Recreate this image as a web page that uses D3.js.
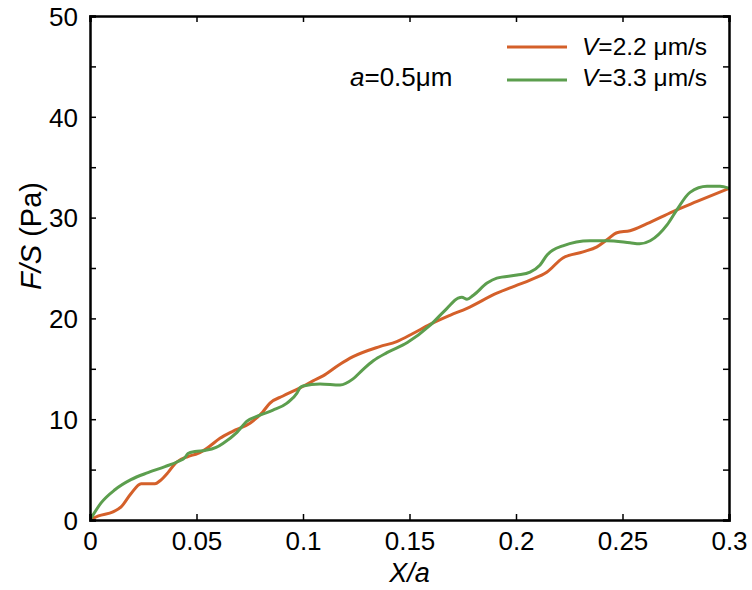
<!DOCTYPE html>
<html>
<head>
<meta charset="utf-8">
<script src="https://cdn.jsdelivr.net/npm/d3@7"></script>
<style>
  body { margin: 0; background: #fff; }
  text { font-family: "Liberation Sans", Arial, sans-serif; fill: #000; }
</style>
</head>
<body>
<svg id="chart"></svg>
<script>
// data
var xOrange = [0, 0.004, 0.0108, 0.0146, 0.0192, 0.024, 0.0305, 0.0329, 0.0366, 0.0404, 0.046, 0.0507,
  0.0554, 0.061, 0.067, 0.0751, 0.081, 0.0845, 0.0906, 0.0986, 0.1047, 0.1094, 0.117, 0.1235, 0.136,
  0.144, 0.1516, 0.1596, 0.169, 0.177, 0.191, 0.2005, 0.2066, 0.2146, 0.222, 0.2315, 0.238, 0.2427,
  0.2474, 0.2535, 0.2615, 0.2737, 0.285, 0.3];
var fOrange = [0, 0.4, 0.8, 1.3, 2.6, 3.6, 3.6, 3.9, 4.7, 5.7, 6.3, 6.6,
  7.2, 8.1, 8.8, 9.6, 10.7, 11.6, 12.3, 13.1, 13.8, 14.3, 15.4, 16.2, 17.2,
  17.7, 18.5, 19.4, 20.3, 21.0, 22.5, 23.3, 23.8, 24.6, 26.0, 26.6, 27.1, 27.8,
  28.5, 28.7, 29.4, 30.6, 31.6, 32.9];

var xGreen = [0, 0.0052, 0.0117, 0.0192, 0.0272, 0.0352, 0.0413, 0.0446, 0.046, 0.0493, 0.054, 0.0592,
  0.0624, 0.069, 0.0737, 0.0798, 0.0859, 0.0925, 0.0972, 0.0985, 0.1, 0.108, 0.1174, 0.1235, 0.128,
  0.133, 0.1394, 0.149, 0.1596, 0.1676, 0.1728, 0.1746, 0.177, 0.18, 0.1864, 0.191, 0.2005, 0.2066,
  0.2113, 0.2146, 0.222, 0.2347, 0.2427, 0.2535, 0.258, 0.263, 0.271, 0.2756, 0.2817, 0.2897, 0.2958, 0.3];
var fGreen = [0, 1.7, 3.0, 4.0, 4.7, 5.3, 5.8, 6.2, 6.6, 6.8, 6.9, 7.2,
  7.6, 8.7, 9.8, 10.4, 10.9, 11.6, 12.6, 13.1, 13.3, 13.5, 13.4, 14.0, 14.9,
  15.8, 16.6, 17.6, 19.3, 21.0, 22.0, 22.1, 21.9, 22.3, 23.5, 24.0, 24.3, 24.6,
  25.3, 26.3, 27.2, 27.7, 27.7, 27.5, 27.4, 27.7, 29.3, 30.8, 32.5, 33.1, 33.1, 32.9];

var seriesNames = ["=2.2 μm/s", "=3.3 μm/s"];
var seriesColors = ["#d4602a", "#5c9e4e"];
var xTicks = [0, 0.05, 0.1, 0.15, 0.2, 0.25, 0.3];
var yTicks = [0, 5, 10, 15, 20, 25, 30, 35, 40, 45, 50];

var width = 752, height = 590;
var margin = {left: 90, right: 23, top: 16, bottom: 70};

var svg = d3.select("#chart").attr("width", width).attr("height", height);

var xScale = d3.scaleLinear().domain([0, 0.3]).range([margin.left, width - margin.right]);
var yScale = d3.scaleLinear().domain([0, 50]).range([height - margin.bottom, margin.top]);

// clip
svg.append("clipPath").attr("id", "clip").append("rect")
  .attr("x", margin.left).attr("y", margin.top)
  .attr("width", width - margin.left - margin.right)
  .attr("height", height - margin.top - margin.bottom);

var line = d3.line()
  .x(function(d){ return xScale(d[0]); })
  .y(function(d){ return yScale(d[1]); })
  .curve(d3.curveMonotoneX);

var series = [d3.zip(xOrange, fOrange), d3.zip(xGreen, fGreen)];

svg.append("g").attr("clip-path", "url(#clip)")
  .selectAll("path").data(series).enter()
  .append("path")
  .attr("d", line)
  .attr("fill", "none")
  .attr("stroke", function(d, i){ return seriesColors[i]; })
  .attr("stroke-width", 3)
  .attr("stroke-linejoin", "round");

// axes, ticks point inward
var fmtX = function(d){ return d === 0 ? "0" : String(+d.toFixed(2)); };
var fmtY = function(d){ return d % 10 === 0 ? d : ""; };

var xBottom = svg.append("g").attr("transform", "translate(0," + (height - margin.bottom) + ")")
  .call(d3.axisBottom(xScale).tickValues(xTicks).tickSize(-6).tickPadding(12).tickFormat(fmtX));
var xTop = svg.append("g").attr("transform", "translate(0," + margin.top + ")")
  .call(d3.axisTop(xScale).tickValues(xTicks).tickSize(-6).tickFormat(""));
var yLeft = svg.append("g").attr("transform", "translate(" + margin.left + ",0)")
  .call(d3.axisLeft(yScale).tickValues(yTicks).tickSize(-6).tickPadding(12).tickFormat(fmtY));
var yRight = svg.append("g").attr("transform", "translate(" + (width - margin.right) + ",0)")
  .call(d3.axisRight(yScale).tickValues(yTicks).tickSize(-6).tickFormat(""));

[xBottom, xTop, yLeft, yRight].forEach(function(ax){
  ax.select(".domain").attr("stroke", "#000").attr("stroke-width", 2.5);
  ax.selectAll(".tick line").attr("stroke", "#000").attr("stroke-width", 1.5);
  ax.selectAll(".tick text").style("font-size", "26px").attr("font-family", null);
});
xBottom.selectAll(".tick text").attr("dy", "0.71em");
yLeft.selectAll(".tick text").attr("dy", "0.36em");

// axis titles
svg.append("text")
  .attr("x", (margin.left + width - margin.right) / 2).attr("y", 582)
  .attr("text-anchor", "middle").style("font-size", "27px").style("font-style", "italic")
  .text("X/a");

var yt = svg.append("text")
  .attr("transform", "translate(41,236) rotate(-90)")
  .attr("text-anchor", "middle").style("font-size", "29px");
yt.append("tspan").style("font-style", "italic").text("F/S");
yt.append("tspan").text(" (Pa)");

// annotation
var ann = svg.append("text").attr("x", 350).attr("y", 86).style("font-size", "26px");
ann.append("tspan").style("font-style", "italic").text("a");
ann.append("tspan").text("=0.5μm");

// legend
var legend = svg.append("g").classed("legend", true);
legend.selectAll("line").data(seriesNames).enter().append("line")
  .attr("x1", 507).attr("x2", 567)
  .attr("y1", function(d, i){ return 47 + i * 33; })
  .attr("y2", function(d, i){ return 47 + i * 33; })
  .attr("stroke", function(d, i){ return seriesColors[i]; })
  .attr("stroke-width", 3);
var lt = legend.selectAll("text").data(seriesNames).enter().append("text")
  .attr("x", 582).attr("y", function(d, i){ return 55 + i * 31; })
  .style("font-size", "24.5px");
lt.append("tspan").style("font-style", "italic").text("V");
lt.append("tspan").text(function(d){ return d; });
</script>
</body>
</html>
